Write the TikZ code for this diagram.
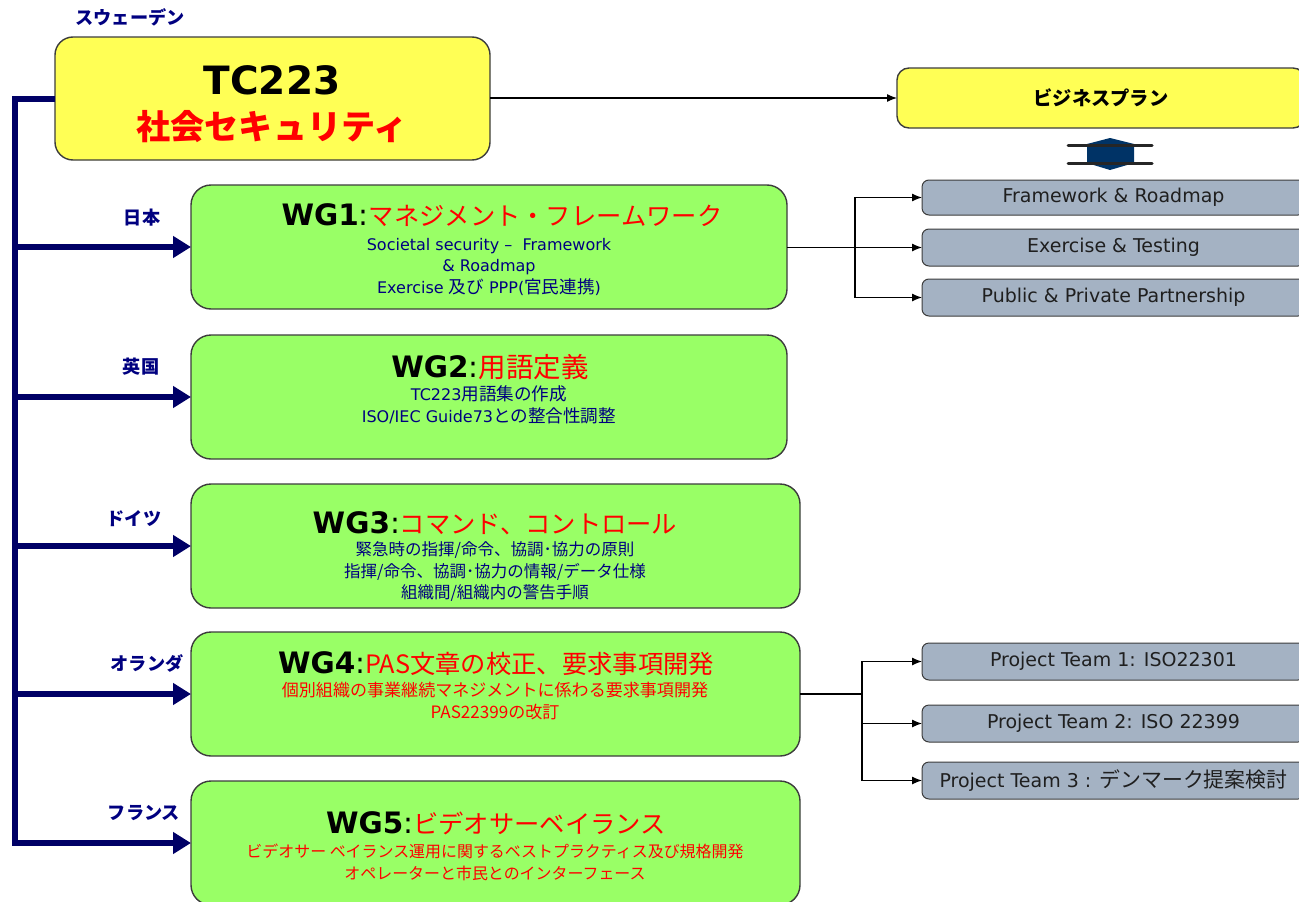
\documentclass[tikz,border=0pt]{standalone}
\usepackage{fontspec}
\setmainfont{DejaVu Sans}
\newfontfamily\jp{Noto Sans CJK JP}[Scale=1.1]
\usepackage{xcolor}
\usetikzlibrary{arrows.meta}
\tikzset{>={Latex[length=10pt,width=8pt]}}
\definecolor{tcyellow}{RGB}{255,255,85}
\definecolor{wggreen}{RGB}{153,255,102}
\definecolor{ptgrey}{RGB}{164,178,195}
\definecolor{boxline}{RGB}{60,60,60}
\definecolor{navy}{RGB}{0,0,128}
\definecolor{barblue}{RGB}{0,0,102}
\definecolor{darrow}{RGB}{0,51,102}
\tikzset{
	box/.style={draw=boxline, line width=1.4pt, inner sep=0pt, outer sep=0pt, anchor=north west},
	tcbox/.style={box, fill=tcyellow, rounded corners=18pt},
	wgbox/.style={box, fill=wggreen, rounded corners=20pt, minimum height=124pt},
	subbox/.style={box, fill=ptgrey, rounded corners=7pt, line width=1pt, minimum width=383pt,
			text=black!88, font=\fontsize{19}{19}\selectfont},
	country/.style={text=navy, font=\jp\bfseries\fontsize{16.5}{16.5}\selectfont},
	wgtitle/.style={font=\bfseries\fontsize{29.5}{29.5}\selectfont},
	wgbody/.style={align=center, text=navy, inner sep=0pt, font=\fontsize{16}{21.5}\selectfont},
	spine/.style={draw=barblue, line width=6pt, -{Triangle[length=18pt,width=21pt]}},
	link/.style={draw=black, line width=1.2pt}
}
\begin{document}
\begin{tikzpicture}[x=1pt,y=-1pt]
	\useasboundingbox (0,0) rectangle (1299,902);

	\node[tcbox, minimum width=435pt, minimum height=123pt] (tc) at (55,37) {};
	\node (tch) at (272,80) {\bfseries\fontsize{39}{39}\selectfont TC223};
	\node[text=red] (tcj) at (272,127) {\jp\bfseries\fontsize{31}{31}\selectfont 社会セキュリティ};
	\node[country] (se) at (130,17) {スウェーデン};

	\node[tcbox, minimum width=408pt, minimum height=60pt, rounded corners=12pt, font=\jp\bfseries\fontsize{17.5}{17.5}\selectfont] (plan) at (897,68) {ビジネスプラン};
	\fill[darrow] (1110,138) -- (1134,144) -- (1134,163) -- (1110,170) -- (1087,163) -- (1087,144) -- cycle;
	\draw[line width=3pt, black!85, line cap=round] (1068,145) -- (1152,145) (1068,163) -- (1152,163);

	\node[wgbox, minimum width=596pt] (wg1) at (191,185) {};
	\node[wgbox, minimum width=596pt] (wg2) at (191,335) {};
	\node[wgbox, minimum width=609pt] (wg3) at (191,484) {};
	\node[wgbox, minimum width=609pt] (wg4) at (191,632) {};
	\node[wgbox, minimum width=609pt] (wg5) at (191,781) {};

	\node[wgtitle] (wg1h) at (502,215) {WG1{\mdseries:}\textcolor{red}{\jp\mdseries\fontsize{23}{23}\selectfont マネジメント・フレームワーク}};
	\node[wgbody] (wg1b) at (489,266.5) {Societal security –\ \ Framework\\\& Roadmap\\Exercise {\jp 及び} PPP({\jp 官民連携})};
	\node[wgtitle] (wg2h) at (490,367) {WG2{\mdseries:}\textcolor{red}{\jp\mdseries\fontsize{25}{25}\selectfont 用語定義}};
	\node[wgbody] (wg2b) at (489,405) {TC223{\jp 用語集の作成}\\ISO/IEC Guide73{\jp との整合性調整}};
	\node[wgtitle] (wg3h) at (495,523) {WG3{\mdseries:}\textcolor{red}{\jp\mdseries\fontsize{23}{23}\selectfont コマンド、コントロール}};
	\node[wgbody, font=\jp\fontsize{15}{21.5}\selectfont] (wg3b) at (495,572) {緊急時の指揮/命令、協調･協力の原則\\指揮/命令、協調･協力の情報/データ仕様\\組織間/組織内の警告手順};
	\node[wgtitle] (wg4h) at (496,664) {WG4{\mdseries:}\textcolor{red}{\jp\mdseries\fontsize{23}{23}\selectfont PAS文章の校正、要求事項開発}};
	\node[wgbody, text=red, font=\jp\fontsize{15.5}{22}\selectfont] (wg4b) at (495,701) {個別組織の事業継続マネジメントに係わる要求事項開発\\PAS22399の改訂};
	\node[wgtitle] (wg5h) at (496,823) {WG5{\mdseries:}\textcolor{red}{\jp\mdseries\fontsize{23}{23}\selectfont ビデオサーベイランス}};
	\node[wgbody, text=red, font=\jp\fontsize{14.5}{21.5}\selectfont] (wg5b) at (495,862.5) {ビデオサー ベイランス運用に関するベストプラクティス及び規格開発\\オペレーターと市民とのインターフェース};

	\node[country] (jp) at (142,218) {日本};
	\node[country] (uk) at (141,367) {英国};
	\node[country] (de) at (134,519) {ドイツ};
	\node[country] (nl) at (147,663) {オランダ};
	\node[country] (fr) at (144,813) {フランス};

	\coordinate (spinebot) at (15,843);
	\draw[spine] (tc.west) -| (spinebot) -- (wg5.west);
	\foreach \w in {wg1,wg2,wg3,wg4}
		\draw[spine] (spinebot |- \w.west) -- (\w.west);

	\node[subbox, minimum height=35pt] (frm) at (922,180) {Framework \& Roadmap};
	\node[subbox, minimum height=37pt] (ext) at (922,229) {Exercise \& Testing};
	\node[subbox, minimum height=37pt] (ppp) at (922,279) {Public \& Private Partnership};
	\node[subbox, minimum height=37pt] (pt1) at (922,643) {Project Team 1: ISO22301};
	\node[subbox, minimum height=37pt] (pt2) at (922,705) {Project Team 2: ISO 22399};
	\node[subbox, minimum height=37pt] (pt3) at (922,762) {Project Team 3 : {\jp デンマーク提案検討}};

	\draw[link,->] (tc.east |- plan.west) -- (plan.west);
	\coordinate (fork1) at (855,247.5);
	\draw[link,->] (wg1.east |- ext.west) -- (ext.west);
	\draw[link,->] (fork1) |- (frm.west);
	\draw[link,->] (fork1) |- (ppp.west);
	\coordinate (fork2) at (862,694);
	\draw[link] (wg4.east) -- (fork2);
	\foreach \p in {pt1,pt2,pt3}
		\draw[link,->] (fork2) |- (\p.west);
\end{tikzpicture}
\end{document}
